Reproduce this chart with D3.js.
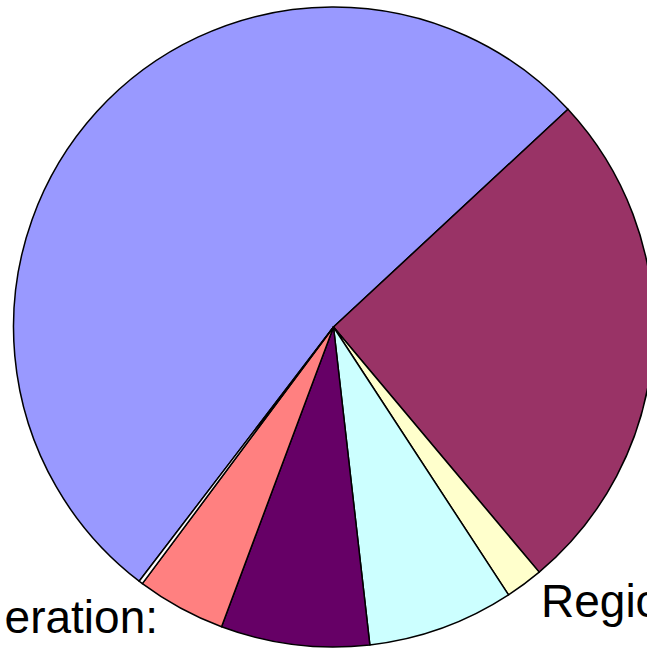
<!DOCTYPE html>
<html>
<head>
<meta charset="utf-8">
<script src="https://cdn.jsdelivr.net/npm/d3@7"></script>
<style>
  body { margin: 0; background: #fff; }
  svg { display: block; }
</style>
</head>
<body>
<svg></svg>
<script>
var categories = ["Slice 1", "Slice 2", "Slice 3", "Slice 4", "Slice 5", "Slice 6", "Slice 7"];
var values = [52.7, 25.8, 1.9, 7.4, 7.5, 4.5, 0.2];
var colors = ["#9999FF", "#993366", "#FFFFCC", "#CCFFFF", "#660066", "#FF8080", "#FFFFFF"];
var labels = ["eration:", "Regio"];

var width = 647;
var height = 649;
var cx = 333.5;
var cy = 327;
var radius = 320;
var start = 217.4 * Math.PI / 180;

var data = categories.map((c, i) => ({ name: c, value: values[i] }));

var colorScale = d3.scaleOrdinal().domain(categories).range(colors);

var svg = d3.select("svg")
  .attr("width", width)
  .attr("height", height);

var chart = svg.append("g")
  .attr("transform", `translate(${cx}, ${cy})`)
  .classed("chart", true);

var arcs = d3.pie()
  .sort(null)
  .value((d) => d.value)
  .startAngle(start)
  .endAngle(start + 2 * Math.PI)(data);

var path = d3.arc()
  .outerRadius(radius)
  .innerRadius(0);

chart.selectAll(".arc")
  .data(arcs)
  .enter()
  .append("path")
  .classed("arc", true)
  .attr("fill", (d) => colorScale(d.data.name))
  .attr("stroke", "black")
  .attr("stroke-width", 1.5)
  .attr("stroke-linejoin", "round")
  .attr("d", path);

// labels partly cut off by the edges
svg.append("text")
  .attr("x", 158)
  .attr("y", 633)
  .attr("text-anchor", "end")
  .attr("font-family", "Liberation Sans, Arial, sans-serif")
  .attr("font-size", 46)
  .text(labels[0]);

svg.append("text")
  .attr("x", 541)
  .attr("y", 617)
  .attr("font-family", "Liberation Sans, Arial, sans-serif")
  .attr("font-size", 46)
  .text(labels[1]);
</script>
</body>
</html>
